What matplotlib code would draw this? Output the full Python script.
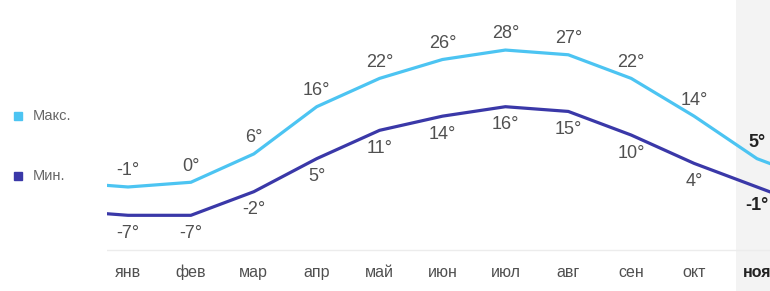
import matplotlib.pyplot as plt
import numpy as np

plt.rcParams['font.family'] = ['Liberation Sans Narrow', 'Liberation Sans', 'DejaVu Sans']

months = ["янв", "фев", "мар", "апр", "май", "июн", "июл", "авг", "сен", "окт", "ноя"]
t_max = [-1, 0, 6, 16, 22, 26, 28, 27, 22, 14, 5]
t_min = [-7, -7, -2, 5, 11, 14, 16, 15, 10, 4, -1]
# December (neighbouring months, only the line ends are visible)
dec_max = 0
dec_min = -6
current = 10  # index of highlighted month

MAX_COLOR = "#4cc4f2"
MIN_COLOR = "#3a38a8"
TEXT_COLOR = "#505050"

W, H = 770, 291
fig = plt.figure(figsize=(W / 100, H / 100), dpi=100)
ax = fig.add_axes([107 / W, 0, 1 - 107 / W, 1])

x = np.arange(len(months))
x_ext = np.concatenate([[-1], x, [len(months)]])
max_ext = [dec_max] + t_max + [dec_max]
min_ext = [dec_min] + t_min + [dec_min]

ax.axvspan(9.67, 11, color="#f3f3f3", zorder=0, lw=0)
ax.plot(x_ext, max_ext, color=MAX_COLOR, lw=2.3, solid_joinstyle="round", zorder=3)
ax.plot(x_ext, min_ext, color=MIN_COLOR, lw=2.3, solid_joinstyle="round", zorder=3)

for i in x:
    bold = "bold" if i == current else "normal"
    col = TEXT_COLOR if i != current else "#222222"
    ax.annotate(f"{t_max[i]}°", (i, t_max[i]), xytext=(0, 5.5), textcoords="offset points",
                ha="center", va="bottom", fontsize=13, color=col, fontweight=bold)
    ax.annotate(f"{t_min[i]}°", (i, t_min[i]), xytext=(0, -7), textcoords="offset points",
                ha="center", va="top", fontsize=13, color=col, fontweight=bold)
    ax.text(i, 0.065, months[i], transform=ax.get_xaxis_transform(), ha="center", va="center",
            fontsize=11.5, color=col, fontweight=bold)

ax.axhline(-14.3, color="#ececec", lw=1, zorder=1)

ax.set_xlim(-0.334, 10.207)
ax.set_ylim(-23.03, 38.6)
ax.axis("off")

# legend
fig.patches.append(plt.Rectangle((14 / W, 1 - 120 / H), 8 / W, 8 / H, color=MAX_COLOR,
                                 transform=fig.transFigure, figure=fig))
fig.patches.append(plt.Rectangle((14 / W, 1 - 180 / H), 8 / W, 8 / H, color=MIN_COLOR,
                                 transform=fig.transFigure, figure=fig))
fig.text(33 / W, 1 - 116 / H, "Макс.", fontsize=10.5, color="#666666", va="center")
fig.text(33 / W, 1 - 176 / H, "Мин.", fontsize=10.5, color="#666666", va="center")

fig.savefig("out.png", dpi=100)
